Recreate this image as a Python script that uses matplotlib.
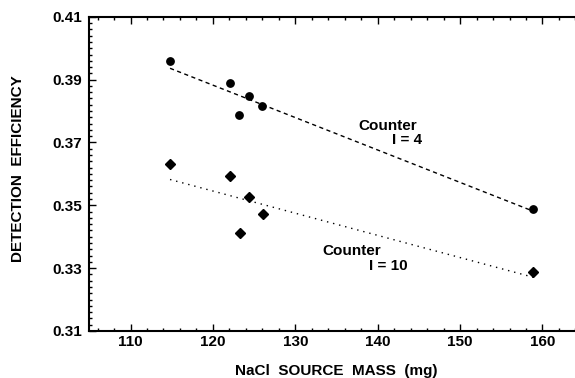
import numpy as np
import matplotlib
matplotlib.use("Agg")
import matplotlib.pyplot as plt
from matplotlib.ticker import MultipleLocator, FormatStrFormatter

plt.rcParams['font.family'] = ['Liberation Sans', 'DejaVu Sans']
plt.rcParams['font.weight'] = 'bold'

mass_i4 = [114.8, 122.1, 124.4, 126.0, 123.2, 158.9]
eff_i4 = [0.3958, 0.3889, 0.3847, 0.3817, 0.3787, 0.3487]
mass_i10 = [114.8, 122.1, 124.4, 126.1, 123.3, 158.9]
eff_i10 = [0.3632, 0.3594, 0.3528, 0.3471, 0.3411, 0.3287]
x_ticks = [110, 120, 130, 140, 150, 160]
y_ticks = [0.31, 0.33, 0.35, 0.37, 0.39, 0.41]

W, H = 575, 378
fig = plt.figure(figsize=(W / 100, H / 100), dpi=100)
ax = fig.add_axes([89.3 / W, 47 / H, 494.4 / W, 314.2 / H])

ax.plot(mass_i4, eff_i4, 'o', color='black', markersize=5.3, zorder=3)
ax.plot(mass_i10, eff_i10, 'D', color='black', markersize=5.0, zorder=3)

for xs, ys, ls in [(mass_i4, eff_i4, (0, (3, 2.5))), (mass_i10, eff_i10, (0, (1, 3.5)))]:
    k, b = np.polyfit(xs, ys, 1)
    xl = np.array([min(xs), max(xs)])
    ax.plot(xl, k * xl + b, color='black', linestyle=ls, linewidth=1.0, zorder=2)

ax.set_xlim(105, 165)
ax.set_ylim(0.31, 0.41)
ax.set_xticks(x_ticks)
ax.set_yticks(y_ticks)
ax.yaxis.set_major_formatter(FormatStrFormatter('%.2f'))
ax.xaxis.set_minor_locator(MultipleLocator(2))
ax.yaxis.set_minor_locator(MultipleLocator(0.002))

ax.spines['right'].set_visible(False)
for s in ['left', 'bottom', 'top']:
    ax.spines[s].set_linewidth(1.5)

ax.tick_params(which='both', direction='in', top=True, right=False, labelsize=11, width=1.0)
ax.tick_params(which='major', length=5)
ax.tick_params(which='minor', length=2.2)
ax.tick_params(axis='x', pad=3)
ax.tick_params(axis='y', pad=5.5)
plt.setp(ax.get_xticklabels() + ax.get_yticklabels(), fontweight='bold')

fig.text(336 / W, 1 - 375.5 / H, 'NaCl  SOURCE  MASS  (mg)', fontsize=11,
         fontweight='bold', ha='center', va='baseline')
fig.text(18.3 / W, 1 - 168.5 / H, 'DETECTION  EFFICIENCY', fontsize=11,
         fontweight='bold', ha='center', va='center', rotation=90)

ax.text(141.25, 0.3754, 'Counter', fontsize=11, fontweight='bold', ha='center', va='center')
ax.text(143.55, 0.3708, 'I = 4', fontsize=11, fontweight='bold', ha='center', va='center')
ax.text(136.8, 0.3356, 'Counter', fontsize=11, fontweight='bold', ha='center', va='center')
ax.text(141.25, 0.3308, 'I = 10', fontsize=11, fontweight='bold', ha='center', va='center')

fig.savefig('out.png', dpi=100)
